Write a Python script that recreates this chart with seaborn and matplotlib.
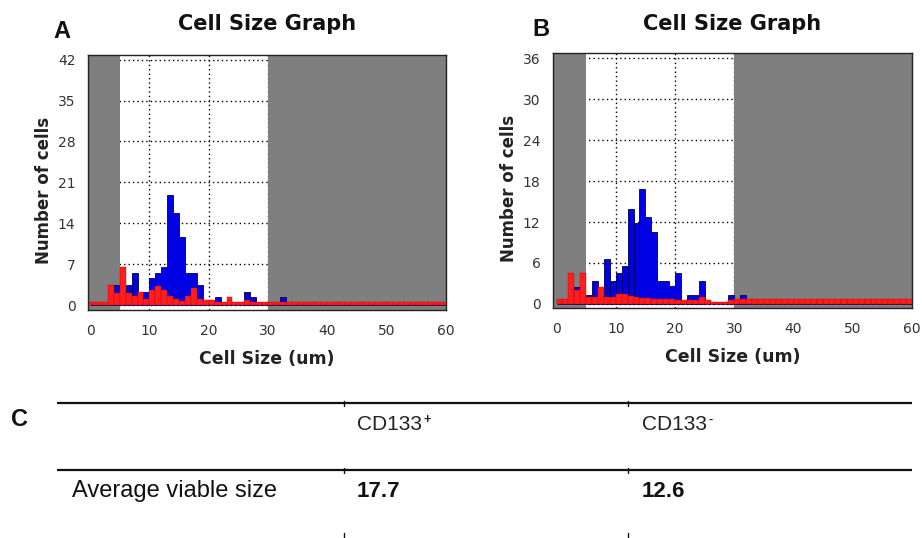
import numpy as np
import pandas as pd
import matplotlib
matplotlib.use("Agg")
import matplotlib.pyplot as plt
import seaborn as sns

# ---------------- data ----------------
bin_edges = list(range(0, 61))          # cell size bins (um), width 1
gate_low, gate_high = 5, 30              # white (gated) region

# Panel A counts per 1-um bin (0..59)
a_blue = [0, 0, 0, 0, 3.4, 0, 3.4, 5.4, 2.0, 2.3,
          4.7, 5.4, 6.5, 18.8, 15.7, 11.7, 5.5, 5.5, 3.4, 0,
          0, 1.4, 0, 0, 0, 0, 2.2, 1.4, 0, 0,
          0, 0, 1.4, 0, 0, 0, 0, 0, 0, 0,
          0, 0, 0, 0, 0, 0, 0, 0, 0, 0,
          0, 0, 0, 0, 0, 0, 0, 0, 0, 0]
a_red = [0.5, 0.5, 0.5, 3.4, 2.0, 6.5, 2.0, 1.5, 2.3, 1.0,
         2.5, 3.2, 2.5, 1.5, 1.0, 0.7, 1.5, 3.0, 1.0, 0.8,
         0.8, 0.5, 0.5, 1.4, 0.5, 0.5, 0.8, 0.5, 0.5, 0.5,
         0.5, 0.5, 0.5, 0.5, 0.5, 0.5, 0.5, 0.5, 0.5, 0.5,
         0.5, 0.5, 0.5, 0.5, 0.5, 0.5, 0.5, 0.5, 0.5, 0.5,
         0.5, 0.5, 0.5, 0.5, 0.5, 0.5, 0.5, 0.5, 0.5, 0.5]

# Panel B counts per 1-um bin (0..59)
b_blue = [0, 0, 0, 2.5, 0, 1.3, 3.4, 0, 6.6, 3.3,
          4.5, 5.5, 13.9, 11.8, 16.9, 12.7, 10.6, 3.4, 3.4, 2.6,
          4.5, 0, 1.3, 1.3, 3.4, 0, 0, 0, 0, 1.3,
          0, 1.3, 0, 0, 0, 0, 0, 0, 0, 0,
          0, 0, 0, 0, 0, 0, 0, 0, 0, 0,
          0, 0, 0, 0, 0, 0, 0, 0, 0, 0]
b_red = [0.7, 0.7, 4.6, 2.0, 4.5, 1.0, 1.0, 2.5, 1.0, 1.0,
         1.5, 1.5, 1.2, 1.0, 0.8, 0.8, 0.7, 0.7, 0.7, 0.7,
         0.6, 0.5, 0.5, 0.5, 1.0, 0.5, 0.3, 0.3, 0.3, 0.5,
         0.7, 0.7, 0.7, 0.7, 0.7, 0.7, 0.7, 0.7, 0.7, 0.7,
         0.7, 0.7, 0.7, 0.7, 0.7, 0.7, 0.7, 0.7, 0.7, 0.7,
         0.7, 0.7, 0.7, 0.7, 0.7, 0.7, 0.7, 0.7, 0.7, 0.7]

a_yticks = [0, 7, 14, 21, 28, 35, 42]
b_yticks = [0, 6, 12, 18, 24, 30, 36]
x_ticks = [0, 10, 20, 30, 40, 50, 60]

table_cols = ["CD133", "CD133"]
table_sups = ["+", "-"]
table_row = ["Average viable size", "17.7", "12.6"]

# ---------------- figure ----------------
sns.set_theme(style="white")
plt.rcParams['font.family'] = ['DejaVu Sans']

W, H = 922, 538
fig = plt.figure(figsize=(W / 100, H / 100), dpi=100)
fig.patch.set_facecolor("white")


def fx(px):
    return px / W


def fy(py):
    return 1 - py / H


GRAY = "#7f7f7f"
BLUE = "#0000e6"
RED = "#ff1e1e"


def panel(left, top, right, bottom, blue, red, yticks, ylim, xlim, letter, letter_xy):
    ax = fig.add_axes([fx(left), fy(bottom), fx(right - left), (bottom - top) / H])
    centers = np.array(bin_edges[:-1]) + 0.5
    df = pd.DataFrame({"size": centers, "blue": blue, "red": red})
    sns.histplot(data=df, x="size", weights="blue", bins=bin_edges, ax=ax,
                 color=BLUE, edgecolor="#000050", linewidth=0.6, alpha=1,
                 zorder=2)
    sns.histplot(data=df, x="size", weights="red", bins=bin_edges, ax=ax,
                 color=RED, edgecolor="#d00000", linewidth=0.3, alpha=1,
                 zorder=3)
    ax.axvspan(-1, gate_low, color=GRAY, zorder=0.8, lw=0)
    ax.axvspan(gate_high, 61, color=GRAY, zorder=0.8, lw=0)
    ax.set_xlim(*xlim)
    ax.set_ylim(*ylim)
    ax.set_xticks(x_ticks)
    ax.set_yticks(yticks)
    ax.set_axisbelow(True)
    ax.grid(True, color="black", linestyle=(0, (1, 2.2)), linewidth=1.0)
    ax.tick_params(axis="both", length=0, labelsize=10, colors="#333333")
    ax.tick_params(axis="x", pad=10)
    ax.tick_params(axis="y", pad=9)
    for s in ax.spines.values():
        s.set_color("#222222")
        s.set_linewidth(1.0)
    ax.set_xlabel("Cell Size (um)", fontsize=12.5, fontweight="bold", color="#222222")
    ax.set_ylabel("Number of cells", fontsize=12, fontweight="bold", color="#222222")
    ax.xaxis.set_label_coords(0.5, -0.155)
    ax.yaxis.set_label_coords(-0.097, 0.47)
    cx = (left + right) / 2
    fig.text(fx(cx), fy(24), "Cell Size Graph", ha="center", va="center",
             fontsize=15, fontweight="bold", color="#111111")
    fig.text(fx(letter_xy[0]), fy(letter_xy[1]), letter, ha="center", va="center",
             fontsize=17, fontweight="bold", color="#111111",
             family=["Liberation Sans"])
    return ax


panel(88, 55, 446, 310, a_blue, a_red, a_yticks, (-0.85, 42.8), (-0.35, 59.6), "A", (62, 31))
panel(553, 53, 912, 308, b_blue, b_red, b_yticks, (-0.6, 36.8), (-0.6, 60.0), "B", (541, 29))

# ---------------- table C ----------------
tab = fig.add_axes([0, 0, 1, 1], zorder=-1)
tab.set_xlim(0, W)
tab.set_ylim(H, 0)
tab.axis("off")

line_y = [403, 470]
col_x = [344, 628]
for y in line_y:
    tab.plot([57, 912], [y, y], color="#111111", lw=1.6, solid_capstyle="butt")
for x in col_x:
    for y in line_y:
        tab.plot([x, x], [y - 2, y + 3], color="#111111", lw=1.0)
    tab.plot([x, x], [533, 538], color="#111111", lw=1.0)

tfont = ["Liberation Sans", "DejaVu Sans"]
tab.text(19, 420, "C", ha="center", va="center", fontsize=17, fontweight="bold",
         family=tfont, color="#111111")
for xpos, name, sup in zip([357, 642], table_cols, table_sups):
    t = tab.text(xpos, 430, name, ha="left", va="baseline", fontsize=15,
                 family=tfont, color="#222222")
    tab.annotate(sup, xy=(1, 1), xycoords=t, xytext=(1, 1),
                 textcoords="offset points", ha="left", va="top",
                 fontsize=9, fontweight="bold", family=tfont, color="#222222")
tab.text(72, 497, table_row[0], ha="left", va="baseline", fontsize=17,
         family=tfont, color="#111111")
tab.text(357, 497, table_row[1], ha="left", va="baseline", fontsize=16,
         fontweight="bold", family=tfont, color="#111111")
tab.text(642, 497, table_row[2], ha="left", va="baseline", fontsize=16,
         fontweight="bold", family=tfont, color="#111111")

fig.savefig("out.png", dpi=100, facecolor="white")
